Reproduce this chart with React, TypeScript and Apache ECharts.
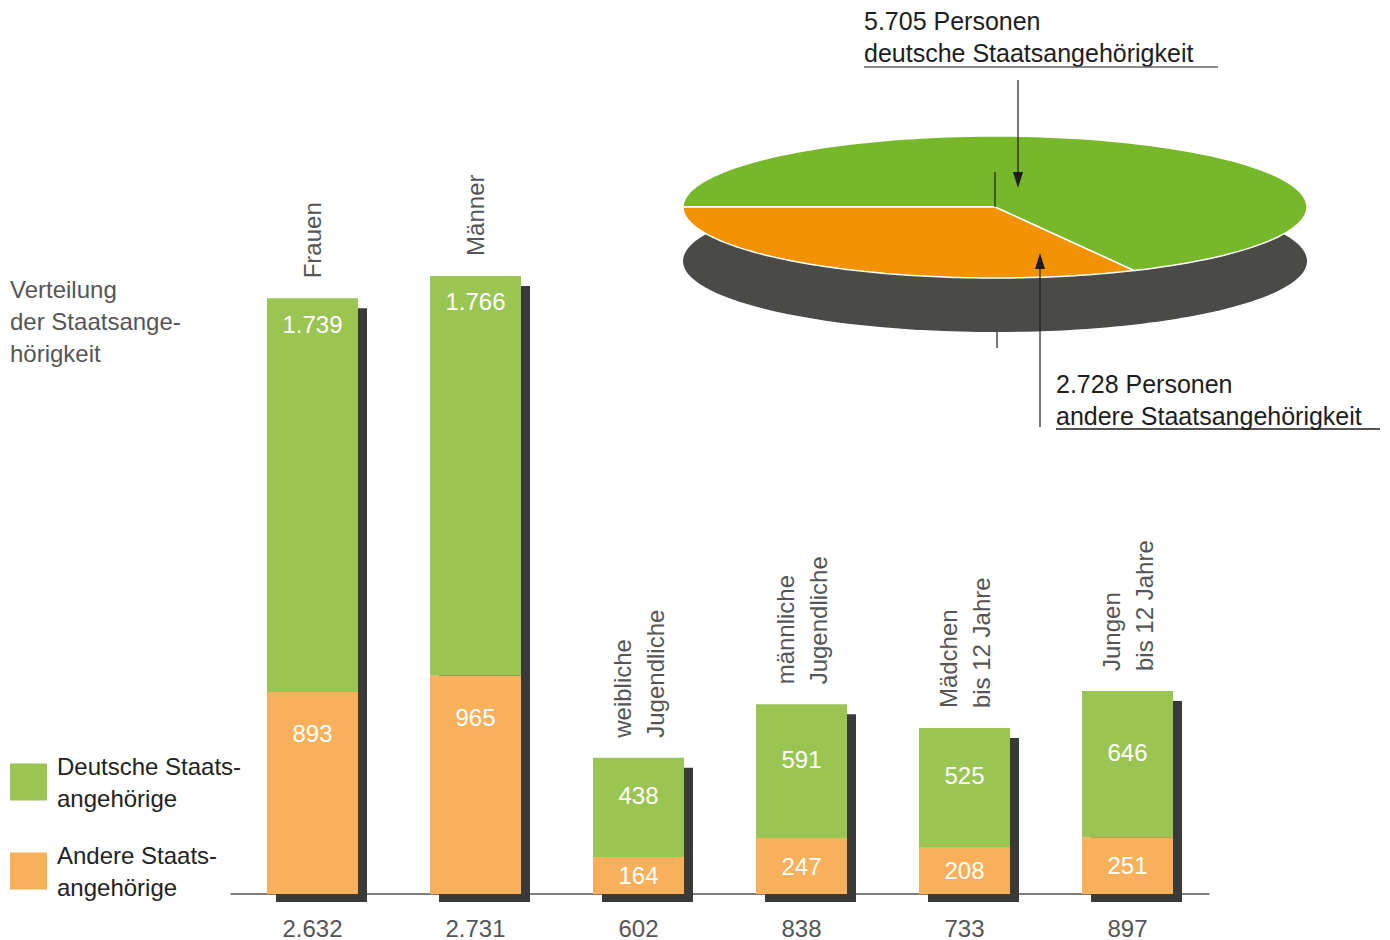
import React, { useEffect, useRef } from 'react';
import * as echarts from 'echarts';

const categories = [
  'Frauen',
  'Männer',
  'weibliche\nJugendliche',
  'männliche\nJugendliche',
  'Mädchen\nbis 12 Jahre',
  'Jungen\nbis 12 Jahre',
];
const deutsche = [1739, 1766, 438, 591, 525, 646];
const andere = [893, 965, 164, 247, 208, 251];
const legendNames = ['Deutsche Staats-\nangehörige', 'Andere Staats-\nangehörige'];
const titleText = 'Verteilung\nder Staatsange-\nhörigkeit';
const pieNames = ['deutsche Staatsangehörigkeit', 'andere Staatsangehörigkeit'];
const pieValues = [5705, 2728];

const FONT = '"Liberation Sans", Arial, sans-serif';
const fmt = (v: number) => String(v).replace(/\B(?=(\d{3})+(?!\d))/g, '.');
const totals = categories.map((_, i) => deutsche[i] + andere[i]);

const GREEN = '#9bc553';
const ORANGE = '#f8b15a';
const SHADOW = '#3a3a38';
const BAR_W = 91;

const PIE = { cx: 995, cy: 207, rx: 312, ry: 71, depth: 54 };
const PIE_COLORS = ['#76b82a', '#f39200'];

export default function App() {
  const ref = useRef<HTMLDivElement>(null);
  useEffect(() => {
    if (!ref.current) return;
    const chart = echarts.init(ref.current, undefined, { renderer: 'svg' });

    const shadowRender = (params: any, api: any) => {
      const i = api.value(0);
      const t = api.value(1);
      const top = api.coord([i, t]);
      const base = api.coord([i, 0]);
      return {
        type: 'group',
        children: [
          {
            type: 'rect',
            shape: {
              x: top[0] - BAR_W / 2 + 9,
              y: top[1] + 10,
              width: BAR_W,
              height: base[1] + 8 - (top[1] + 10),
            },
            style: { fill: SHADOW },
          },
          {
            type: 'text',
            x: top[0],
            y: top[1] - 20,
            rotation: Math.PI / 2,
            style: {
              text: categories[i],
              fill: '#555',
              fontSize: 24,
              fontFamily: FONT,
              align: 'left',
              verticalAlign: 'middle',
              lineHeight: 33,
            },
          },
        ],
      };
    };

    const pieTotal = pieValues.reduce((a, b) => a + b, 0);
    // sweep order: andere (1) starting at the left edge going through the bottom, then deutsche (0)
    const order = [1, 0];
    const angles: Record<number, [number, number]> = {};
    let cur = Math.PI;
    order.forEach((k) => {
      const next = cur - (2 * Math.PI * pieValues[k]) / pieTotal;
      angles[k] = [cur, next];
      cur = next;
    });

    const pieRender = (params: any, api: any) => {
      const k = params.dataIndex;
      const [t0, t1] = angles[k];
      const pts: number[][] = [[PIE.cx, PIE.cy]];
      const steps = 120;
      for (let s = 0; s <= steps; s++) {
        const t = t0 + ((t1 - t0) * s) / steps;
        pts.push([PIE.cx + PIE.rx * Math.cos(t), PIE.cy + PIE.ry * Math.sin(t)]);
      }
      const children: any[] = [];
      if (k === 0) {
        children.push({
          type: 'ellipse',
          z2: 0,
          shape: { cx: PIE.cx, cy: PIE.cy + PIE.depth, rx: PIE.rx, ry: PIE.ry },
          style: { fill: '#4a4a48' },
        });
      }
      children.push({
        type: 'polygon',
        z2: 5 + k,
        shape: { points: pts },
        style: { fill: PIE_COLORS[k], stroke: '#ffffff', lineWidth: 1.5 },
      });
      return { type: 'group', children };
    };

    const labelText = (p: any) => fmt(p.value);
    const pieText = { fill: '#1d1d1b', fontSize: 25, fontFamily: FONT, verticalAlign: 'middle', align: 'left' };

    const option: any = {
      animation: false,
      textStyle: { fontFamily: FONT },
      title: {
        text: titleText,
        left: 10,
        top: 273,
        padding: 0,
        textStyle: {
          fontSize: 24,
          lineHeight: 32,
          color: '#555',
          fontWeight: 'normal',
          fontFamily: FONT,
        },
      },
      legend: {
        data: legendNames,
        orient: 'vertical',
        left: 10,
        top: 750,
        padding: 0,
        itemWidth: 37,
        itemHeight: 37,
        itemGap: 25,
        icon: 'rect',
        selectedMode: false,
        textStyle: {
          fontSize: 24,
          lineHeight: 32,
          color: '#222',
          fontFamily: FONT,
          padding: [0, 0, 0, 5],
        },
      },
      grid: { left: 231, right: 181, top: 215, bottom: 46 },
      xAxis: {
        type: 'category',
        data: categories,
        axisLine: { lineStyle: { color: '#555', width: 1.5 } },
        axisTick: { show: false },
        axisLabel: {
          formatter: (_v: any, i: number) => fmt(totals[i]),
          margin: 22,
          fontSize: 24,
          color: '#555',
          fontFamily: FONT,
        },
      },
      yAxis: { type: 'value', min: 0, max: 3000, show: false },
      series: [
        {
          type: 'custom',
          name: 'shadow',
          renderItem: shadowRender,
          data: totals.map((t, i) => [i, t]),
          encode: { x: 0, y: 1 },
          z: 1,
          silent: true,
        },
        {
          type: 'bar',
          name: legendNames[1],
          stack: 'total',
          barWidth: BAR_W,
          z: 2,
          itemStyle: { color: ORANGE },
          label: { show: true, color: '#fff', fontSize: 24, fontFamily: FONT, formatter: labelText },
          data: andere.map((v, i) => ({
            value: v,
            label: totals[i] > 2000 ? { position: 'insideTop', distance: 30 } : { position: 'inside' },
          })),
        },
        {
          type: 'bar',
          name: legendNames[0],
          stack: 'total',
          barWidth: BAR_W,
          z: 2,
          itemStyle: { color: GREEN },
          label: { show: true, color: '#fff', fontSize: 24, fontFamily: FONT, formatter: labelText },
          data: deutsche.map((v, i) => ({
            value: v,
            label:
              totals[i] > 2000
                ? { position: 'insideTop', distance: 14 }
                : { position: 'inside', offset: [0, -12] },
          })),
        },
        {
          type: 'custom',
          name: 'pie',
          coordinateSystem: 'none',
          renderItem: pieRender,
          data: pieValues.map((v) => [v]),
          z: 3,
          silent: true,
        },
      ],
      graphic: [
        { type: 'line', z: 10, shape: { x1: 995, y1: 172, x2: 995, y2: 207 }, style: { stroke: '#1d1d1b', lineWidth: 1.2 } },
        { type: 'line', z: 10, shape: { x1: 997, y1: 332, x2: 997, y2: 348 }, style: { stroke: '#1d1d1b', lineWidth: 1.2 } },
        { type: 'line', z: 10, shape: { x1: 1018, y1: 80, x2: 1018, y2: 176 }, style: { stroke: '#1d1d1b', lineWidth: 1.2 } },
        { type: 'polygon', z: 10, shape: { points: [[1013, 172], [1023, 172], [1018, 188]] }, style: { fill: '#1d1d1b' } },
        { type: 'line', z: 10, shape: { x1: 1040, y1: 427, x2: 1040, y2: 264 }, style: { stroke: '#1d1d1b', lineWidth: 1.2 } },
        { type: 'polygon', z: 10, shape: { points: [[1035, 269], [1045, 269], [1040, 253]] }, style: { fill: '#1d1d1b' } },
        { type: 'text', z: 10, x: 864, y: 21, style: { ...pieText, text: fmt(pieValues[0]) + ' Personen' } },
        { type: 'text', z: 10, x: 864, y: 53, style: { ...pieText, text: pieNames[0] } },
        { type: 'line', z: 10, shape: { x1: 864, y1: 67, x2: 1218, y2: 67 }, style: { stroke: '#666', lineWidth: 1.5 } },
        { type: 'text', z: 10, x: 1056, y: 384, style: { ...pieText, text: fmt(pieValues[1]) + ' Personen' } },
        { type: 'text', z: 10, x: 1056, y: 416, style: { ...pieText, text: pieNames[1] } },
        { type: 'line', z: 10, shape: { x1: 1056, y1: 429, x2: 1380, y2: 429 }, style: { stroke: '#1d1d1b', lineWidth: 1.5 } },
      ],
    };
    chart.setOption(option);
    return () => chart.dispose();
  }, []);
  return <div ref={ref} style={{ width: 1390, height: 940, position: 'absolute', left: 0, top: 0 }} />;
}
